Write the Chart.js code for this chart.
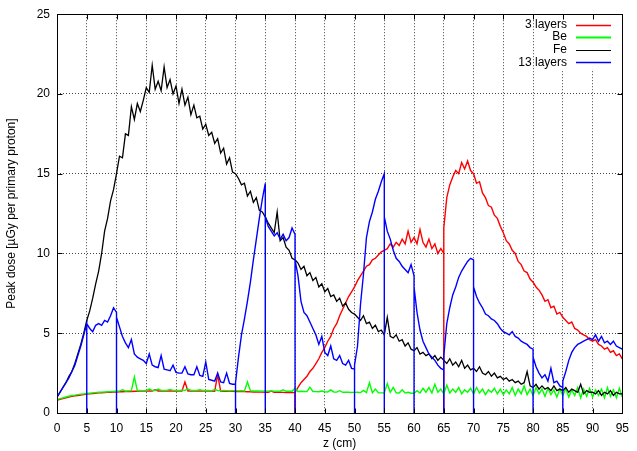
<!DOCTYPE html>
<html>
<head>
<meta charset="utf-8">
<style>
  body { margin: 0; background: #fff; }
  canvas { display: block; }
</style>
</head>
<body>
<canvas id="dose-chart" width="637" height="451"></canvas>
<script src="https://cdn.jsdelivr.net/npm/chart.js@4/dist/chart.umd.min.js"></script>
<script>
// depth samples (cm)
const z = [
  0,0.5,1,1.5,2,2.5,3,3.5,4,4.5,5,5.5,6,6.5,7,7.5,8,8.5,9,9.5,
  10,10.5,11,11.5,12,12.5,13,13.5,14,14.5,15,15.5,16,16.5,17,17.5,18,18.5,19,19.5,
  20,20.5,21,21.5,22,22.5,23,23.5,24,24.5,25,25.5,26,26.5,27,27.5,28,28.5,29,29.5,
  30,30.5,31,31.5,32,32.5,33,33.5,34,34.5,35,35.5,36,36.5,37,37.5,38,38.5,39,39.5,
  40,40.5,41,41.5,42,42.5,43,43.5,44,44.5,45,45.5,46,46.5,47,47.5,48,48.5,49,49.5,
  50,50.5,51,51.5,52,52.5,53,53.5,54,54.5,55,55.5,56,56.5,57,57.5,58,58.5,59,59.5,
  60,60.5,61,61.5,62,62.5,63,63.5,64,64.5,65,65.5,66,66.5,67,67.5,68,68.5,69,69.5,
  70,70.5,71,71.5,72,72.5,73,73.5,74,74.5,75,75.5,76,76.5,77,77.5,78,78.5,79,79.5,
  80,80.5,81,81.5,82,82.5,83,83.5,84,84.5,85,85.5,86,86.5,87,87.5,88,88.5,89,89.5,
  90,90.5,91,91.5,92,92.5,93,93.5,94,94.5,95
];

// 3 layers
const threeLayers = [
  0.8,0.85,0.9,0.95,1.0,1.05,1.08,1.1,1.13,1.15, 1.18,1.2,1.22,1.24,1.26,1.27,1.28,1.29,1.3,1.31,
  1.32,1.33,1.33,1.34,1.35,1.35,1.36,1.36,1.37,1.37, 1.37,1.38,1.38,1.45,1.38,1.38,1.39,1.38,1.39,1.38,
  1.38,1.39,1.38,1.95,1.38,1.39,1.38,1.38,1.39,1.38, 1.38,1.37,1.38,1.37,2.4,1.37,1.36,1.37,1.36,1.36,
  1.35,1.35,1.34,1.34,1.33,1.33,1.32,1.32,1.31,1.31, 1.3,1.3,1.38,1.3,1.29,1.3,1.29,1.28,1.28,1.28,
  1.28,1.6,1.9,2.1,2.3,2.6,2.8,3.1,3.4,3.8, 4.1,4.5,4.8,5.3,5.6,6.1,6.5,6.9,7.3,7.6,
  7.9,8.3,8.6,8.9,9.2,9.3,9.6,9.7,9.9,10.1, 10.2,10.3,10.6,10.4,10.7,10.5,10.9,10.6,11.4,10.7,
  11.0,10.6,11.5,10.7,10.4,10.9,10.3,10.6,10.0,10.3, 10.0,13.5,14.3,14.8,15.2,15.0,15.7,15.3,15.8,15.2,
  15.0,14.4,14.5,13.8,13.5,13.0,12.9,12.4,12.2,11.7, 11.3,10.8,10.6,10.2,10.0,9.5,9.3,8.9,8.8,8.4,
  8.2,7.9,7.7,7.4,7.0,7.1,6.6,6.7,6.2,6.3, 6.0,5.8,5.6,5.7,5.3,5.2,5.0,4.9,4.8,4.6,
  4.5,4.6,4.3,4.2,4.0,4.1,3.8,3.9,3.6,3.7, 3.4
];
const threeEdges = [40, 65];
const threeAfterEdge = [1.3, 11.6];

// Be
const beDose = [
  0.85,0.9,0.95,1.0,1.05,1.1,1.12,1.15,1.18,1.2, 1.22,1.24,1.26,1.28,1.3,1.31,1.32,1.33,1.34,1.35,
  1.36,1.37,1.45,1.38,1.39,1.4,2.25,1.4,1.41,1.4, 1.41,1.5,1.42,1.41,1.5,1.42,1.41,1.42,1.48,1.42,
  1.42,1.41,1.43,1.42,1.5,1.42,1.41,1.42,1.46,1.41, 1.42,1.41,1.4,1.47,1.41,1.4,1.41,1.4,1.39,1.4,
  1.4,1.39,1.4,1.38,1.95,1.39,1.38,1.39,1.38,1.37, 1.38,1.37,1.38,1.37,1.36,1.37,1.45,1.36,1.37,1.36,
  1.55,1.35,1.36,1.35,1.34,1.62,1.35,1.34,1.33,1.38, 1.33,1.32,1.45,1.32,1.31,1.4,1.3,1.31,1.3,1.29,
  1.29,1.3,1.28,1.42,1.28,1.9,1.27,1.5,1.27,1.26, 1.26,1.85,1.3,1.6,1.26,1.25,1.45,1.25,1.3,1.24,
  1.24,1.4,1.25,1.55,1.3,1.6,1.25,1.8,1.3,1.5, 1.2,1.75,1.25,1.5,1.3,1.6,1.2,1.45,1.3,1.55,
  1.2,1.6,1.25,1.5,1.15,1.45,1.3,1.55,1.2,1.5, 1.15,1.45,1.2,1.6,1.1,1.5,1.2,1.7,1.15,1.5,
  1.1,1.6,1.2,1.5,1.05,1.55,1.15,1.45,1.0,1.5, 1.1,1.55,1.0,1.45,1.1,1.6,0.95,1.5,1.05,1.55,
  1.0,1.45,1.1,1.5,0.95,1.6,1.05,1.45,0.95,1.55, 1.0
];

// Fe
const feDose = [
  1.0,1.3,1.6,1.9,2.3,2.6,3.1,3.7,4.3,5.0, 5.8,6.4,7.2,8.1,8.9,10.0,11.4,12.2,13.3,14.0,
  15.0,16.1,16.0,17.5,17.4,19.2,18.4,19.4,18.9,19.6, 20.4,20.1,21.8,20.3,20.8,20.2,21.7,20.4,20.9,20.0,
  20.5,19.4,20.3,19.3,19.8,18.7,19.3,18.5,18.6,17.8, 18.1,17.4,17.6,16.9,17.2,16.3,16.6,15.6,16.0,15.1,
  15.0,14.7,14.3,14.4,13.6,13.9,13.2,13.5,12.7,12.6, 12.3,11.9,11.6,11.3,12.6,10.8,11.0,10.4,10.2,9.7,
  9.6,9.4,9.0,9.2,8.6,8.8,8.3,8.5,7.9,8.1, 7.6,7.8,7.3,7.4,7.0,7.2,6.7,6.9,6.5,6.3,
  6.2,6.0,5.8,6.1,5.6,5.7,5.3,5.5,5.1,5.2, 4.9,6.0,4.8,4.7,4.9,4.5,4.6,4.2,4.4,4.0,
  3.9,4.1,3.7,3.8,3.6,3.7,3.4,3.6,3.3,3.5, 3.3,3.1,3.4,3.0,3.2,2.9,3.3,2.8,3.0,2.7,
  2.8,2.6,2.9,2.5,2.4,2.6,2.3,2.5,2.2,2.3, 2.1,2.2,2.0,2.1,1.9,2.0,1.8,1.9,2.6,1.7,
  1.6,1.8,1.5,1.7,1.5,1.6,1.4,1.7,1.4,1.5, 1.4,1.6,1.3,1.5,1.4,1.3,1.8,1.2,1.4,1.3,
  1.3,1.2,1.4,1.1,1.3,1.2,1.4,1.1,1.3,1.2, 1.2
];

// 13 layers
const thirteenLayers = [
  1.0,1.3,1.6,1.9,2.2,2.6,3.0,3.6,4.2,4.9, 5.6,5.3,5.1,5.5,5.6,5.5,5.8,5.7,6.1,6.6,
  6.3,5.4,4.8,4.4,4.1,4.6,3.7,3.5,3.4,3.3, 3.1,3.7,3.0,2.9,2.85,3.6,2.75,2.7,2.65,3.0,
  2.55,2.5,2.5,2.9,2.45,2.4,2.4,2.9,2.35,2.3, 3.2,2.1,2.05,2.0,2.5,1.95,1.9,2.5,1.85,1.8,
  1.8,3.5,4.9,5.9,7.0,8.2,9.6,10.9,12.2,13.4, 14.4,11.7,11.4,11.1,11.3,10.9,11.2,10.8,11.0,11.6,
  11.2,8.6,7.0,6.3,6.1,5.7,5.3,4.9,4.3,4.8, 3.8,3.6,4.2,3.4,3.3,3.6,3.1,3.0,3.3,2.8,
  2.75,4.2,6.8,8.7,11.0,12.0,12.6,13.4,13.9,14.5, 15.0,11.4,10.9,10.2,9.7,9.5,9.2,9.0,8.8,9.3,
  8.6,6.3,5.2,4.5,4.1,3.7,3.5,3.3,3.0,2.8, 2.7,5.6,6.6,7.4,7.9,8.5,8.9,9.2,9.5,9.7,
  9.6,7.3,6.9,6.6,6.2,6.1,5.9,5.8,5.6,5.3, 5.1,5.0,4.9,5.1,4.8,4.7,4.5,4.4,4.3,4.1,
  4.0,2.9,2.5,2.2,2.4,2.0,2.8,1.9,2.0,1.7, 1.6,2.6,3.3,3.8,4.1,4.3,4.4,4.5,4.6,4.7,
  4.6,4.9,4.5,4.8,4.4,4.5,4.3,4.5,4.2,4.1, 4.0
];
const thirteenEdges = [5, 10, 30, 35, 40, 50, 55, 60, 65, 70, 80, 85];
const thirteenAfterEdge = [5.6, 6.0, 1.9, 12.3, 9.6, 3.0, 12.3, 7.9, 3.6, 7.9, 3.5, 2.0];

// at a layer edge the dose falls to zero, then picks up again
function toPoints(values, edges, after) {
  const pts = [];
  z.forEach(function (zv, i) {
    pts.push({ x: zv, y: values[i] });
    const k = edges.indexOf(zv);
    if (k >= 0) {
      pts.push({ x: zv, y: 0 });
      pts.push({ x: zv, y: after[k] });
    }
  });
  return pts;
}

const font = "'Liberation Sans', Arial, Helvetica, sans-serif";

// gnuplot-like frame, inward ticks and key (text left of sample line)
const gnuFrame = {
  id: 'gnuFrame',
  afterDatasetsDraw(chart) {
    const ctx = chart.ctx;
    const a = chart.chartArea;
    const xs = chart.scales.x, ys = chart.scales.y;
    const L = Math.round(a.left) + 0.5, R = Math.round(a.right) + 0.5;
    const T = Math.round(a.top) + 0.5, B = Math.round(a.bottom) + 0.5;
    ctx.save();
    // key area hides the grid behind it
    ctx.fillStyle = '#fff';
    ctx.fillRect(562, T, R - 562, 55);

    ctx.strokeStyle = '#000';
    ctx.lineWidth = 1;
    ctx.setLineDash([]);
    ctx.beginPath();
    xs.ticks.forEach(function (t) {
      const p = Math.round(xs.getPixelForValue(t.value)) + 0.5;
      ctx.moveTo(p, B); ctx.lineTo(p, B - 5);
      ctx.moveTo(p, T); ctx.lineTo(p, T + 5);
    });
    ys.ticks.forEach(function (t) {
      const p = Math.round(ys.getPixelForValue(t.value)) + 0.5;
      ctx.moveTo(L, p); ctx.lineTo(L + 5, p);
      ctx.moveTo(R, p); ctx.lineTo(R - 5, p);
    });
    ctx.stroke();
    ctx.strokeRect(L, T, R - L, B - T);

    // key
    const keyOrder = [3, 2, 1, 0];
    ctx.font = '12px ' + font;
    ctx.textAlign = 'right';
    ctx.textBaseline = 'middle';
    keyOrder.forEach(function (di, row) {
      const ds = chart.data.datasets[di];
      const y = 24.5 + row * 12.6;
      ctx.fillStyle = '#000';
      ctx.fillText(ds.label, 567, y);
      ctx.strokeStyle = ds.borderColor;
      ctx.lineWidth = ds.keyWidth;
      ctx.beginPath();
      ctx.moveTo(576, Math.round(y) + 0.5);
      ctx.lineTo(611, Math.round(y) + 0.5);
      ctx.stroke();
    });
    ctx.restore();
  }
};

new Chart(document.getElementById('dose-chart'), {
  type: 'line',
  data: {
    datasets: [
      { label: '13 layers', data: toPoints(thirteenLayers, thirteenEdges, thirteenAfterEdge), borderColor: '#0000ff', borderWidth: 1.4, keyWidth: 1.5 },
      { label: 'Fe', data: toPoints(feDose, [], []), borderColor: '#000000', borderWidth: 1.3, keyWidth: 1 },
      { label: 'Be', data: toPoints(beDose, [], []), borderColor: '#00ff00', borderWidth: 1.4, keyWidth: 2 },
      { label: '3 layers', data: toPoints(threeLayers, threeEdges, threeAfterEdge), borderColor: '#ff0000', borderWidth: 1.4, keyWidth: 1.5 }
    ]
  },
  options: {
    responsive: false,
    animation: false,
    layout: { padding: { top: 12, right: 10, left: 0, bottom: 0 } },
    elements: {
      point: { radius: 0 },
      line: { tension: 0, fill: false }
    },
    plugins: {
      legend: { display: false },
      tooltip: { enabled: false }
    },
    scales: {
      x: {
        type: 'linear',
        min: 0,
        max: 95,
        afterFit: function (s) { s.height = 38; },
        ticks: { stepSize: 5, color: '#000', padding: 8, maxRotation: 0, font: { family: font, size: 12 } },
        grid: { color: '#444', drawTicks: false },
        border: { display: false, dash: [1, 2] },
        title: { display: true, text: 'z (cm)', color: '#000', font: { family: font, size: 12 }, padding: { top: 0, bottom: 0 } }
      },
      y: {
        min: 0,
        max: 25,
        afterFit: function (s) { s.width = 57; },
        ticks: { stepSize: 5, color: '#000', padding: 7, font: { family: font, size: 12 } },
        grid: { color: '#444', drawTicks: false },
        border: { display: false, dash: [1, 2] },
        title: { display: true, text: 'Peak dose [\u00b5Gy per primary proton]', color: '#000', font: { family: font, size: 12 }, padding: { top: 4, bottom: 0 } }
      }
    }
  },
  plugins: [gnuFrame]
});
</script>
</body>
</html>
